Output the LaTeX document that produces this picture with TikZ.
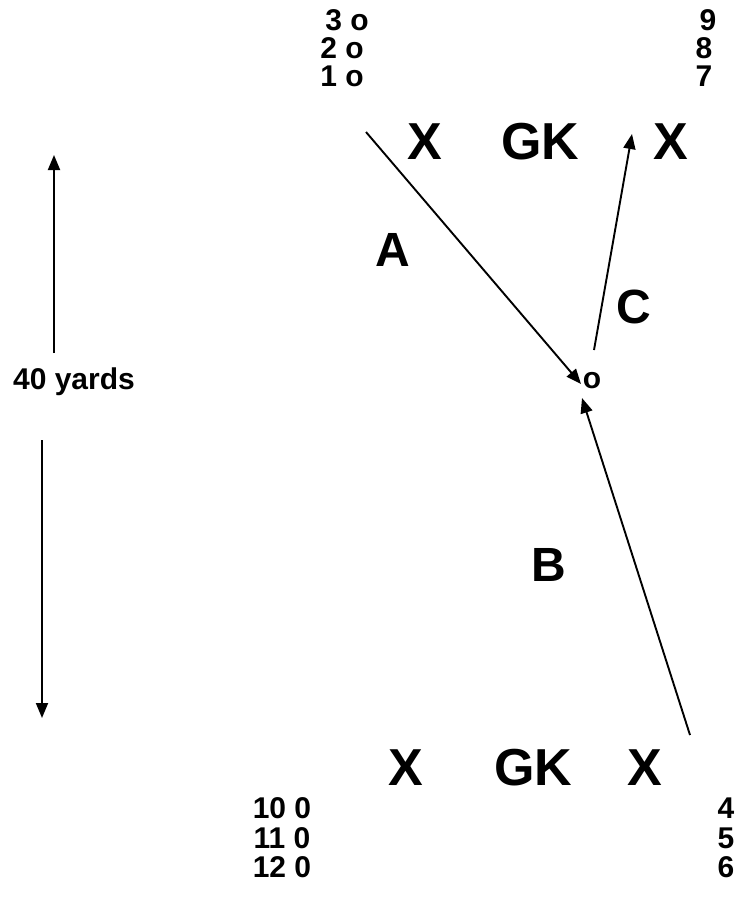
\documentclass[tikz,border=0pt]{standalone}
\usepackage{fontspec}
\setmainfont{Liberation Sans}
\usetikzlibrary{arrows.meta}
\tikzset{
  small/.style={font=\fontsize{30}{30}\selectfont\bfseries, inner sep=0pt, anchor=center},
  big/.style={font=\fontsize{52}{52}\selectfont\bfseries, inner sep=0pt, anchor=center},
  lbl/.style={font=\fontsize{48}{48}\selectfont\bfseries, inner sep=0pt, anchor=center},
  pass/.style={line width=1.9pt, -{Triangle[length=15pt,width=12pt]}},
}
\begin{document}
\begin{tikzpicture}[x=1pt,y=-1pt]
\useasboundingbox (0,0) rectangle (738,902);
% top labels
\node[small] (t3) at (347,20) {3 o};
\node[small] (t2) at (342,48) {2 o};
\node[small] (t1) at (342,76) {1 o};
\node[small] (t9) at (708,20) {9};
\node[small] (t8) at (704,48) {8};
\node[small] (t7) at (704,76) {7};
% top row
\node[big] (tx1) at (425,142) {X};
\node[big] (tgk) at (540,142) {GK};
\node[big] (tx2) at (671,142) {X};
% bottom row
\node[big] (bx1) at (406,768) {X};
\node[big] (bgk) at (533,768) {GK};
\node[big] (bx2) at (645,768) {X};
% bottom labels
\node[small] (b10) at (282,808) {10 0};
\node[small] (b11) at (282,838) {11 0};
\node[small] (b12) at (282,867) {12 0};
\node[small] (b4) at (726,808) {4};
\node[small] (b5) at (726,838) {5};
\node[small] (b6) at (726,867) {6};
% letters
\node[lbl] (la) at (393,250) {A};
\node[lbl] (lc) at (634,307) {C};
\node[lbl] (lb) at (549,565) {B};
% central player
\node[small] (mid) at (592,381) {o};
% yards
\node[small] (yd) at (74,382) {40 yards};
% coordinates
\coordinate (aS) at (366,132);
\coordinate (aE) at (581,384);
\coordinate (cS) at (594,350);
\coordinate (cE) at (632,134);
\coordinate (bS) at (690,735);
\coordinate (bE) at (582,398);
\coordinate (u1) at (54,353);
\coordinate (u2) at (54,155);
\coordinate (d1) at (42,440);
\coordinate (d2) at (42,718);
\draw[pass] (aS) -- (aE);
\draw[pass] (cS) -- (cE);
\draw[pass] (bS) -- (bE);
\draw[pass] (u1) -- (u2);
\draw[pass] (d1) -- (d2);
\end{tikzpicture}
\end{document}
